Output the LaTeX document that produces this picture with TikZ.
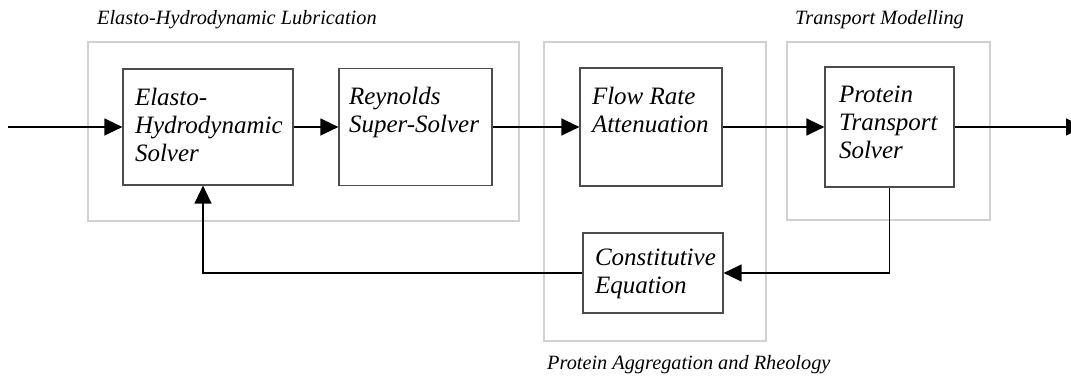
\documentclass[tikz,border=0pt]{standalone}
\usepackage{fontspec}
\setmainfont{Liberation Serif}
\usetikzlibrary{arrows.meta}

% text of a solver block, set at the top left of the box
\newcommand{\blocktext}[3]{\parbox[c][#2][t]{#1}{\raggedright\fontsize{25}{28}\selectfont\itshape #3}}

\tikzset{
  block/.style={draw=black!70, line width=1.2pt, inner xsep=12pt, inner ysep=19pt},
  group/.style={draw=black!18, line width=1.8pt},
  grouplabel/.style={anchor=west, inner sep=0pt, font=\fontsize{20.3}{24}\selectfont\itshape},
  flow/.style={line width=1.3pt, -{Triangle[length=18pt,width=17pt]}},
}

\begin{document}
\begin{tikzpicture}[x=1pt,y=-1pt]
\useasboundingbox (0,0) rectangle (1071,375);

% groups
\draw[group] (88,42) rectangle (519,221);
\draw[group] (544,42) rectangle (766,341);
\draw[group] (787,42) rectangle (990,220);
\node[grouplabel] (ehllabel) at (97,20) {Elasto-Hydrodynamic Lubrication};
\node[grouplabel] (tmlabel) at (795,20) {Transport Modelling};
\node[grouplabel] (parlabel) at (547,365) {Protein Aggregation and Rheology};

% solvers
\node[block] (ehs) at (208,127) {\blocktext{146pt}{78pt}{Elasto-\\Hydrodynamic\\Solver}};
\node[block, inner xsep=10pt] (rss) at (415.5,127) {\blocktext{133pt}{79pt}{Reynolds\\\mbox{Super-Solver}}};
\node[block] (fra) at (651,127) {\blocktext{118pt}{80pt}{Flow Rate\\Attenuation}};
\node[block, inner xsep=14pt] (pts) at (889.5,127) {\blocktext{101pt}{82pt}{Protein\\Transport\\Solver}};
\node[block, inner ysep=16pt] (ceq) at (653,273) {\blocktext{116pt}{48pt}{Constitutive\\Equation}};

\coordinate (in) at (8,127);
\coordinate (out) at (1084,127);

% connectors
\draw[flow] (in) -- (ehs.west);
\draw[flow] (ehs.east) -- (rss.west);
\draw[flow] (rss.east) -- (fra.west);
\draw[flow] (fra.east) -- (pts.west);
\draw[flow] (pts.east) -- (out);
\draw[flow] (pts.south) |- (ceq.east);
\draw[flow] (ceq.west) -| ([xshift=-5pt]ehs.south);
\end{tikzpicture}
\end{document}
